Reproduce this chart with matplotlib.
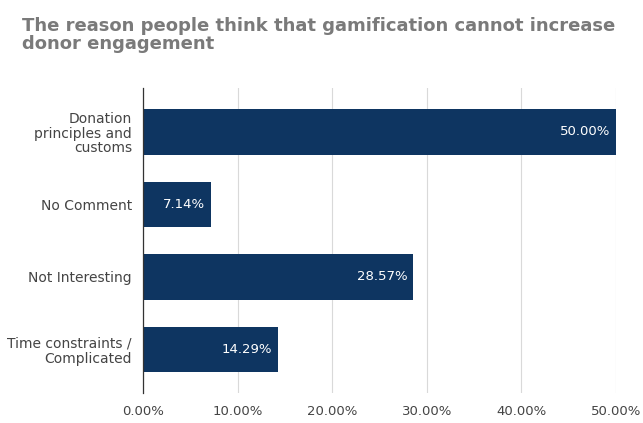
import matplotlib
matplotlib.use("Agg")
import matplotlib.pyplot as plt
from matplotlib.ticker import FuncFormatter

# survey responses (share of respondents)
categories = ["Donation\nprinciples and\ncustoms", "No Comment", "Not Interesting",
              "Time constraints /\nComplicated"]
shares = [50.00, 7.14, 28.57, 14.29]
xticks = [0, 10, 20, 30, 40, 50]

plt.rcParams["font.family"] = ["DejaVu Sans"]

fig = plt.figure(figsize=(6.43, 4.23), dpi=100)
ax = fig.add_axes([0.2224, 0.071, 0.7356, 0.72])

pos = list(range(len(categories)))
ax.barh(pos, shares, height=0.63, color="#0e3561", zorder=3)
for y, v in zip(pos, shares):
    ax.text(v - 0.6, y, f"{v:.2f}%", color="white", ha="right", va="center",
            fontsize=9.5, zorder=4)

ax.set_yticks(pos)
ax.set_yticklabels(categories, fontsize=10, color="#444444", linespacing=1.05)
ax.set_ylim(3.6, -0.6)
ax.set_xlim(0, 50)
ax.set_xticks(xticks)
ax.xaxis.set_major_formatter(FuncFormatter(lambda x, _: f"{x:.2f}%"))
ax.tick_params(axis="x", labelsize=9.5, labelcolor="#444444", length=0, pad=9)
ax.tick_params(axis="y", length=0, pad=8)
ax.grid(axis="x", color="#d9d9d9", linewidth=0.8, zorder=0)
for s in ["top", "right", "bottom"]:
    ax.spines[s].set_visible(False)
ax.spines["left"].set_color("#333333")
ax.spines["left"].set_linewidth(0.9)
ax.spines["left"].set_zorder(5)

fig.text(0.034, 0.96, "The reason people think that gamification cannot increase\ndonor engagement",
         fontsize=13, fontweight="bold", color="#7a7a7a", ha="left", va="top",
         linespacing=1.02)

fig.savefig("out.png", dpi=100)
